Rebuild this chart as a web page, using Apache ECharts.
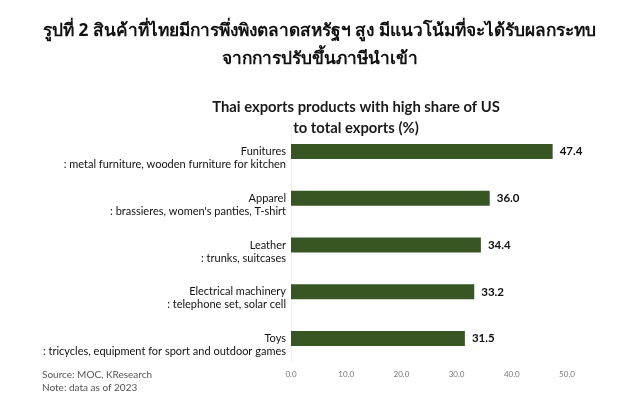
<!DOCTYPE html>
<html><head><meta charset="utf-8">
<script src="https://cdn.jsdelivr.net/npm/echarts@6/dist/echarts.min.js"></script>
<style>html,body{margin:0;padding:0;background:#fff}#c{width:639px;height:412px}</style>
</head><body><div id="c"></div>
<script>
const categories = ["Funitures", "Apparel", "Leather", "Electrical machinery", "Toys"];
const descriptions = [
  ": metal furniture, wooden furniture for kitchen",
  ": brassieres, women's panties, T-shirt",
  ": trunks, suitcases",
  ": telephone set, solar cell",
  ": tricycles, equipment for sport and outdoor games"
];
const values = [47.4, 36.0, 34.4, 33.2, 31.5];
const xTicks = [0, 10, 20, 30, 40, 50];

const chart = echarts.init(document.getElementById('c'));
const font = 'Lato, "Noto Sans", sans-serif';
chart.setOption({
  animation: false,
  backgroundColor: '#fff',
  title: [
    {
      text: 'รูปที่ 2 สินค้าที่ไทยมีการพึ่งพิงตลาดสหรัฐฯ สูง มีแนวโน้มที่จะได้รับผลกระทบ\nจากการปรับขึ้นภาษีนำเข้า',
      left: 'center', top: 12,
      textStyle: { fontSize: 17.3, fontWeight: 'bold', color: '#111', lineHeight: 28, fontFamily: '"Noto Sans", "DejaVu Sans", sans-serif' }
    },
    {
      text: 'Thai exports products with high share of US\nto total exports (%)',
      left: 351, textAlign: 'center', top: 92,
      textStyle: { fontSize: 14.8, fontWeight: 'bold', color: '#1a1a1a', lineHeight: 21, fontFamily: font }
    }
  ],
  graphic: [
    { type: 'text', left: 42, top: 369, style: { text: 'Source: MOC, KResearch\nNote: data as of 2023', fill: '#555', fontSize: 10, lineHeight: 12.5, fontFamily: font } }
  ],
  grid: { left: 291, right: 72, top: 128, bottom: 50, containLabel: false },
  xAxis: {
    type: 'value', min: 0, max: 50, interval: 10,
    axisLine: { show: false }, axisTick: { show: false }, splitLine: { show: false },
    axisLabel: { color: '#777', fontSize: 8, margin: 8, fontFamily: font, formatter: v => xTicks.includes(v) ? v.toFixed(1) : '' }
  },
  yAxis: {
    type: 'category', inverse: true, data: categories,
    axisLine: { show: true, lineStyle: { color: '#eeeeee', width: 1 } },
    axisTick: { show: false },
    axisLabel: {
      margin: 5, align: 'right', fontFamily: font,
      formatter: (v, i) => '{e| }\n{a|' + v + '}\n{b|' + descriptions[i] + '}',
      rich: {
        e: { fontSize: 11, lineHeight: 13 },
        a: { fontSize: 11, lineHeight: 13, color: '#111', fontFamily: font },
        b: { fontSize: 11, lineHeight: 13, color: '#111', fontFamily: font }
      }
    }
  },
  series: [{
    type: 'bar', data: values, barWidth: 15,
    itemStyle: { color: '#375623' },
    label: { show: true, position: 'right', distance: 7, formatter: p => p.value.toFixed(1), color: '#111', fontSize: 11.5, fontWeight: 'bold', fontFamily: font }
  }]
});
</script></body></html>
